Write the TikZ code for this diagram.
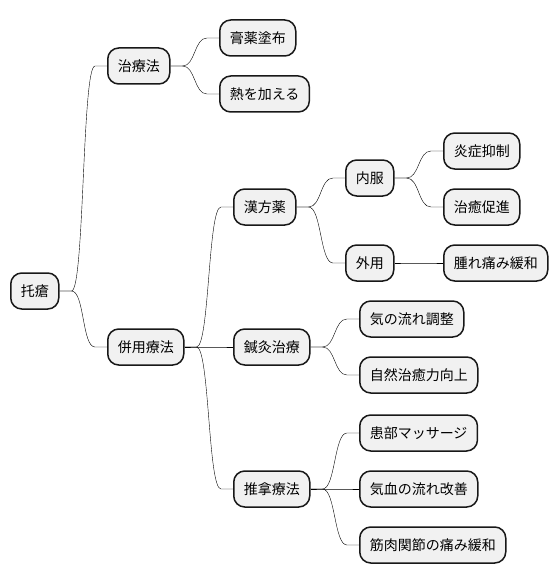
\documentclass[tikz,border=0pt]{standalone}
\usepackage{fontspec}
\setmainfont{Noto Sans CJK JP}
\usetikzlibrary{calc}
\definecolor{nodefill}{HTML}{F1F1F1}
\definecolor{inkline}{HTML}{181818}
\tikzset{
	topic/.style={draw=inkline,fill=nodefill,line width=1.5pt,rounded corners=11pt,
		minimum height=36pt,inner xsep=10pt,inner ysep=0pt,anchor=west,
		font=\fontsize{14pt}{16pt}\selectfont},
	branch/.style={draw=inkline,line width=1pt,
		to path={-- ($(\tikztostart)+(12,0)$) .. controls +(13,0) and +(-13,0) .. ($(\tikztotarget)+(-12,0)$) -- (\tikztotarget)}}
}
\begin{document}
\begin{tikzpicture}[x=1pt,y=-1pt]
			\useasboundingbox (0,0) rectangle (558,583);
			% root
			\node[topic] (root) at (10,291) {托瘡};
			% treatment
			\node[topic] (chiryo) at (107,66) {治療法};
			\node[topic] (koyaku) at (219,38) {膏薬塗布};
			\node[topic] (netsu) at (219,94) {熱を加える};
			% combined therapy
			\node[topic] (heiyo) at (107,347) {併用療法};
			\node[topic] (kampo) at (233,207) {漢方薬};
			\node[topic] (naifuku) at (345,178) {内服};
			\node[topic] (ensho) at (443,151) {炎症抑制};
			\node[topic] (chiyu) at (443,207) {治癒促進};
			\node[topic] (gaiyo) at (345,263) {外用};
			\node[topic] (hare) at (443,263) {腫れ痛み緩和};
			\node[topic] (shinkyu) at (233,347) {鍼灸治療};
			\node[topic] (ki) at (359,319) {気の流れ調整};
			\node[topic] (shizen) at (359,375) {自然治癒力向上};
			\node[topic] (suina) at (233,489) {推拿療法};
			\node[topic] (kanbu) at (359,433) {患部マッサージ};
			\node[topic] (kiketsu) at (359,489) {気血の流れ改善};
			\node[topic] (kinniku) at (359,545) {筋肉関節の痛み緩和};
			% branches
			\draw (root.east) to[branch] (chiryo.west);
			\draw (root.east) to[branch] (heiyo.west);
			\draw (chiryo.east) to[branch] (koyaku.west);
			\draw (chiryo.east) to[branch] (netsu.west);
			\draw (heiyo.east) to[branch] (kampo.west);
			\draw (heiyo.east) to[branch] (shinkyu.west);
			\draw (heiyo.east) to[branch] (suina.west);
			\draw (kampo.east) to[branch] (naifuku.west);
			\draw (kampo.east) to[branch] (gaiyo.west);
			\draw (naifuku.east) to[branch] (ensho.west);
			\draw (naifuku.east) to[branch] (chiyu.west);
			\draw (gaiyo.east) to[branch] (hare.west);
			\draw (shinkyu.east) to[branch] (ki.west);
			\draw (shinkyu.east) to[branch] (shizen.west);
			\draw (suina.east) to[branch] (kanbu.west);
			\draw (suina.east) to[branch] (kiketsu.west);
			\draw (suina.east) to[branch] (kinniku.west);
		\end{tikzpicture}
\end{document}
